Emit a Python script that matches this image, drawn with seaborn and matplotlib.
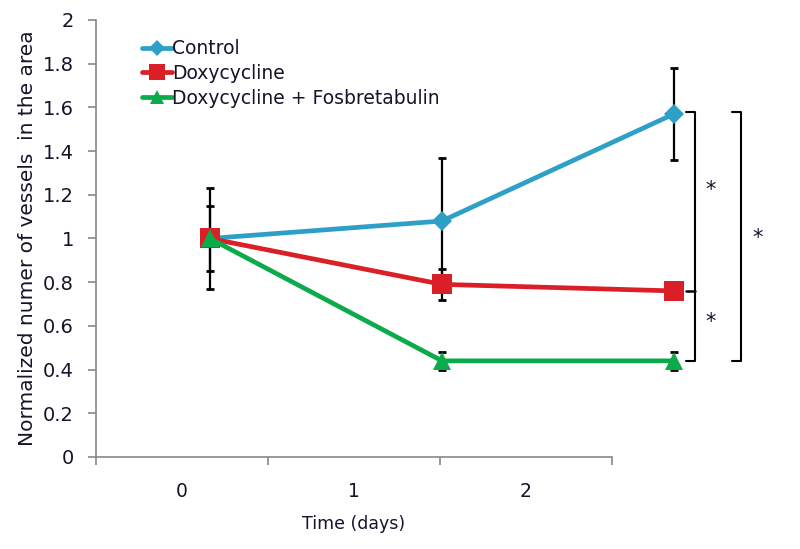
import numpy as np
import pandas as pd
import matplotlib
matplotlib.use('Agg')
import matplotlib.pyplot as plt
import seaborn as sns
from matplotlib.lines import Line2D

# data
days = [0, 1, 2]
day_labels = ['0', '1', '2']
control = [1.0, 1.08, 1.57]
control_err = [0.23, 0.29, 0.21]
doxy = [1.0, 0.79, 0.76]
doxy_err = [0.15, 0.07, 0.02]
doxy_fos = [1.0, 0.44, 0.44]
doxy_fos_err = [0.0, 0.04, 0.04]

series = ['Control', 'Doxycycline', 'Doxycycline + Fosbretabulin']
colors = ['#2E9FC6', '#DA1F26', '#0BAA4B']
markers = ['D', 's', '^']
msizes = [10, 14, 13]

df = pd.DataFrame({
    'day': days * 3,
    'value': control + doxy + doxy_fos,
    'err': control_err + doxy_err + doxy_fos_err,
    'group': [s for s in series for _ in days],
})

sns.set_style('white')
plt.rcParams['font.family'] = ['DejaVu Sans']
txt = '#14142a'

fig = plt.figure(figsize=(8, 5.49), dpi=100)
ax = fig.add_axes([0.12, 0.1676, 0.645, 0.796])

# category axis (labels sit between boundary ticks)
ax.set_xlim(-0.5, 2.5)
ax.set_ylim(0, 2)
ax.set_xticks([-0.5, 0.5, 1.5, 2.5])
ax.set_xticklabels([])
ax.set_xticks(days, minor=True)
ax.set_xticklabels(day_labels, minor=True)
ax.tick_params(axis='x', which='minor', length=0, pad=18, labelsize=13.5, labelcolor=txt)
ax.tick_params(axis='x', which='major', length=6, color='#888888', width=1.2)
ax.set_yticks(np.arange(0, 2.01, 0.2))
ax.set_yticklabels(['0', '0.2', '0.4', '0.6', '0.8', '1', '1.2', '1.4', '1.6', '1.8', '2'])
ax.tick_params(axis='y', length=6, color='#888888', width=1.2, labelsize=14, labelcolor=txt, left=True, pad=10)
for sp in ['top', 'right']:
    ax.spines[sp].set_visible(False)
for sp in ['left', 'bottom']:
    ax.spines[sp].set_color('#888888')
    ax.spines[sp].set_linewidth(1.2)
ax.set_xlabel('Time (days)', fontsize=12.5, color=txt, labelpad=10)
ax.set_ylabel('Normalized numer of vessels  in the area', fontsize=14.5, color=txt, labelpad=4)

# data drawn on a second x scale, offset like the original
ax2 = ax.twiny()
ax2.set_xlim(-0.491, 1.733)
ax2.set_ylim(0, 2)
ax2.axis('off')

sns.lineplot(data=df, x='day', y='value', hue='group', style='group',
             palette=dict(zip(series, colors)), markers=dict(zip(series, markers)),
             dashes=False, linewidth=3.4, markeredgewidth=0, ax=ax2, legend=False, zorder=3)
for line, ms in zip(list(ax2.lines), msizes):
    line.set_markersize(ms)

for s in series:
    d = df[df['group'] == s]
    ax2.errorbar(d['day'], d['value'], yerr=d['err'], fmt='none', ecolor='black',
                 elinewidth=1.6, capsize=3, capthick=2, zorder=2)

# significance brackets
for xb, y0, y1 in [(2.09, 0.44, 1.58), (2.29, 0.44, 1.58)]:
    ax2.plot([xb - 0.04, xb, xb, xb - 0.04], [y1, y1, y0, y0], color='black', lw=1.5)
ax2.plot([2.09, 2.05], [0.76, 0.76], color='black', lw=1.8)
for xs, ys in [(2.16, 1.22), (2.16, 0.62), (2.36, 1.0)]:
    ax2.text(xs, ys, '*', fontsize=15, ha='center', va='center', color=txt)

for art in ax2.get_children():
    try:
        art.set_clip_on(False)
    except Exception:
        pass

# legend
handles = [Line2D([], [], color=c, marker=m, markersize=ms * 0.8, lw=3.4, markeredgewidth=0)
           for c, m, ms in zip(colors, markers, msizes)]
fig.legend(handles, series, loc='upper left', bbox_to_anchor=(0.168, 0.942), frameon=False,
           fontsize=13.5, handlelength=1.6, handletextpad=0.0, labelspacing=0.3,
           labelcolor=txt, borderaxespad=0)

fig.savefig('out.png', dpi=100)
